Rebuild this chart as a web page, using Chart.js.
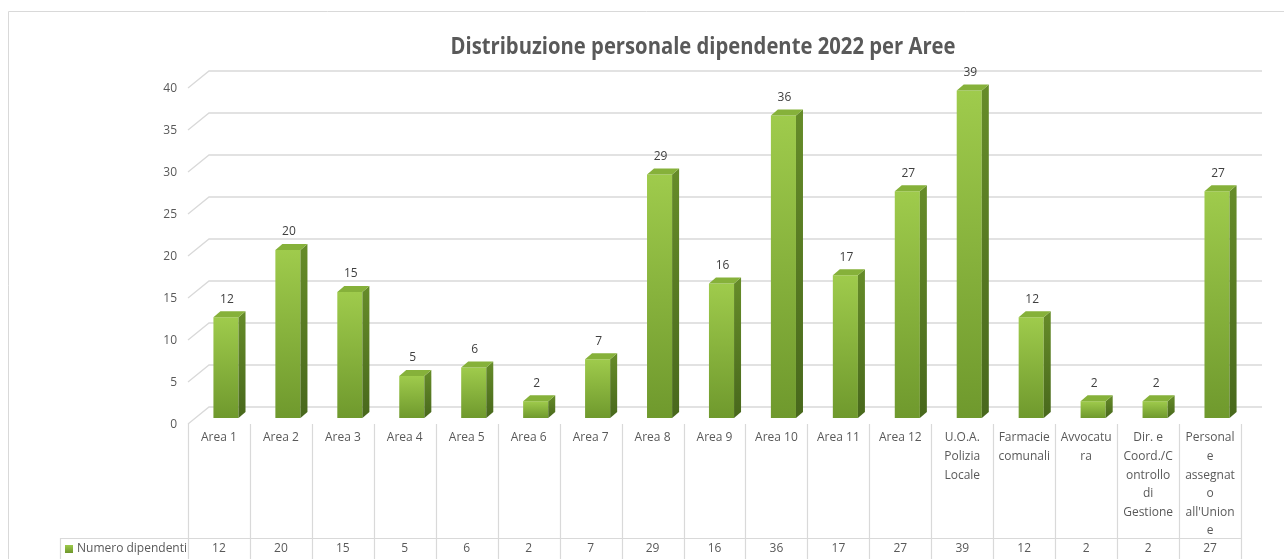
<!DOCTYPE html>
<html><head><meta charset="utf-8">
<script src="https://cdn.jsdelivr.net/npm/chart.js@4.4.1/dist/chart.umd.min.js"></script>
<style>html,body{margin:0;padding:0;background:#fff;overflow:hidden}canvas{display:block}</style>
</head><body>
<canvas id="c" width="1284" height="559"></canvas>
<script>
// ---- data ----
const chartTitle = "Distribuzione personale dipendente 2022 per Aree";
const seriesName = "Numero dipendenti";
const categories = ["Area 1","Area 2","Area 3","Area 4","Area 5","Area 6","Area 7","Area 8","Area 9","Area 10","Area 11","Area 12","U.O.A. Polizia Locale","Farmacie comunali","Avvocatura","Dir. e Coord./Controllo di Gestione","Personale assegnato all'Unione"];
const categoryLabelLines = [["Area 1"],["Area 2"],["Area 3"],["Area 4"],["Area 5"],["Area 6"],["Area 7"],["Area 8"],["Area 9"],["Area 10"],["Area 11"],["Area 12"],["U.O.A.","Polizia","Locale"],["Farmacie","comunali"],["Avvocatu","ra"],["Dir. e","Coord./C","ontrollo","di","Gestione"],["Personal","e","assegnat","o","all'Union","e"]];
const values = [12,20,15,5,6,2,7,29,16,36,17,27,39,12,2,2,27];
const yTickValues = [0,5,10,15,20,25,30,35,40];

// ---- style ----
const FONT = "'Open Sans', 'Noto Sans', sans-serif";
const TEXT = '#595959';
const GRID = '#d9d9d9';
const DEPTH_X = 21, DEPTH_Y = 17;      // floor depth (front -> back wall)
const BAR_SHIFT_X = 7, BAR_SHIFT_Y = 6; // bar front face vs floor front edge
const CAP_X = 7, CAP_Y = 6;             // bar depth

function vGrad(ctx, yTop, yBot, c1, c2){
  if (!isFinite(yTop) || !isFinite(yBot) || yTop === yBot) return c1;
  const g = ctx.createLinearGradient(0, yTop, 0, yBot);
  g.addColorStop(0, c1); g.addColorStop(1, c2); return g;
}

const threeD = {
  id: 'threeD',
  beforeDatasetsDraw(chart){
    const ctx = chart.ctx, xs = chart.scales.x, ys = chart.scales.y;
    const n = categories.length;
    const colW = (xs.right - xs.left) / n;
    const frontLeft = xs.left - BAR_SHIFT_X;
    const frontRight = xs.right - BAR_SHIFT_X;
    ctx.save();
    // outer border
    ctx.strokeStyle = '#d9d9d9'; ctx.lineWidth = 1;
    ctx.beginPath(); ctx.moveTo(8.5, 600); ctx.lineTo(8.5, 11.5); ctx.lineTo(1300, 11.5); ctx.stroke();
    // title: Calibri-like proportions (taller, narrower), fitted to reference width
    ctx.font = `bold 23px ${FONT}`;
    const w = ctx.measureText(chartTitle).width;
    const sx = 505 / w;
    ctx.fillStyle = TEXT; ctx.textAlign = 'center'; ctx.textBaseline = 'middle';
    ctx.save();
    ctx.translate(703, 47);
    ctx.scale(sx, 1);
    ctx.fillText(chartTitle, 0, 0);
    ctx.restore();
    // gridlines + y labels
    ctx.font = `12px ${FONT}`;
    ctx.textAlign = 'right';
    ctx.strokeStyle = GRID; ctx.lineWidth = 1.3;
    yTickValues.forEach(v => {
      const yf = ys.getPixelForValue(v) + BAR_SHIFT_Y;
      const yb = yf - DEPTH_Y;
      ctx.beginPath();
      ctx.moveTo(frontLeft, yf);
      ctx.lineTo(frontLeft + DEPTH_X, yb);
      ctx.lineTo(frontRight + DEPTH_X, yb);
      ctx.stroke();
      ctx.fillText(String(v), frontLeft - 11, yf + 1);
    });
    // data table
    const floorY = ys.getPixelForValue(0) + BAR_SHIFT_Y;
    const rowY = 538;
    ctx.lineWidth = 1.2;
    ctx.beginPath();
    for (let i = 0; i <= n; i++) {
      const x = Math.round(frontLeft + i * colW) + 0.5;
      ctx.moveTo(x, floorY); ctx.lineTo(x, 600);
    }
    ctx.moveTo(60.5, rowY + 0.5); ctx.lineTo(frontRight, rowY + 0.5);
    ctx.moveTo(60.5, rowY); ctx.lineTo(60.5, 600);
    ctx.stroke();
    ctx.fillStyle = TEXT; ctx.textAlign = 'center'; ctx.textBaseline = 'middle';
    ctx.font = `12px ${FONT}`;
    for (let i = 0; i < n; i++) {
      const cx = xs.getPixelForValue(i) - BAR_SHIFT_X;
      categoryLabelLines[i].forEach((ln, k) => ctx.fillText(ln, cx, 438 + k * 18.6));
      ctx.fillText(String(values[i]), cx, 549);
    }
    // legend key + series name
    ctx.fillStyle = vGrad(ctx, 545, 553, '#9dca4b', '#6e962c');
    ctx.fillRect(65, 545, 8, 8);
    ctx.fillStyle = TEXT; ctx.textAlign = 'left';
    ctx.fillText(seriesName, 77, 549);
    ctx.restore();
  },
  afterDatasetsDraw(chart){
    const ctx = chart.ctx;
    const meta = chart.getDatasetMeta(0);
    ctx.save();
    meta.data.forEach((bar, i) => {
      const p = bar.getProps(['x','y','base','width'], true);
      const x1 = p.x - p.width/2, x2 = p.x + p.width/2;
      const top = p.y, bot = p.base;
      // side face
      ctx.fillStyle = vGrad(ctx, top - CAP_Y, bot, '#668c29', '#48681c');
      ctx.beginPath();
      ctx.moveTo(x2, top); ctx.lineTo(x2 + CAP_X, top - CAP_Y);
      ctx.lineTo(x2 + CAP_X, bot - CAP_Y); ctx.lineTo(x2, bot); ctx.closePath(); ctx.fill();
      // top face
      ctx.fillStyle = '#86b13a';
      ctx.beginPath();
      ctx.moveTo(x1, top); ctx.lineTo(x1 + CAP_X, top - CAP_Y);
      ctx.lineTo(x2 + CAP_X, top - CAP_Y); ctx.lineTo(x2, top); ctx.closePath(); ctx.fill();
      // data label
      ctx.fillStyle = '#404040'; ctx.font = `12px ${FONT}`;
      ctx.textAlign = 'center'; ctx.textBaseline = 'middle';
      ctx.fillText(String(values[i]), p.x + 1, top - 18);
    });
    ctx.restore();
  }
};

new Chart(document.getElementById('c'), {
  type: 'bar',
  data: {
    labels: categories,
    datasets: [{
      label: seriesName,
      data: values,
      borderWidth: 0,
      barPercentage: 0.405,
      categoryPercentage: 1,
      backgroundColor: (c) => {
        const ch = c.chart; const ys = ch.scales && ch.scales.y;
        if (!ys || !ch.chartArea || !c.parsed) return '#8cb83c';
        const top = ys.getPixelForValue(c.parsed.y), bot = ys.getPixelForValue(0);
        return vGrad(ch.ctx, top, bot, '#9fcb4c', '#6f992d');
      }
    }]
  },
  options: {
    responsive: false,
    devicePixelRatio: 1,
    animation: false,
    layout: { padding: { left: 195, right: 36, top: 82, bottom: 141 } },
    plugins: { legend: { display: false }, tooltip: { enabled: false }, title: { display: false } },
    scales: {
      x: { display: false, offset: true, grid: { display: false } },
      y: { display: false, min: 0, max: 40, ticks: { stepSize: 5 } }
    }
  },
  plugins: [threeD]
});
</script>
</body></html>
